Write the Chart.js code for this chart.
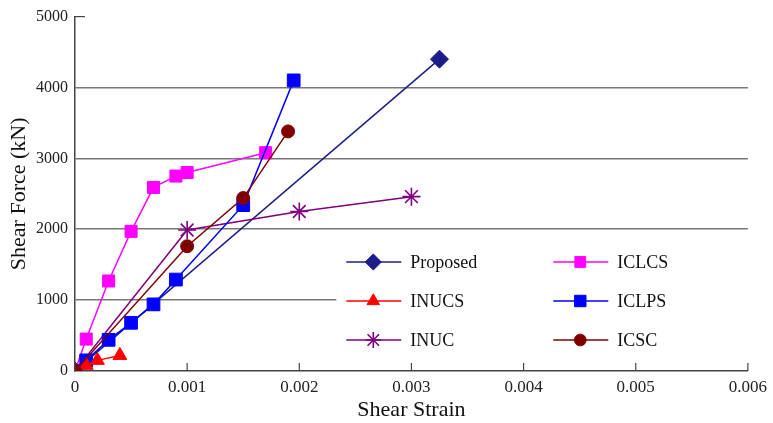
<!DOCTYPE html>
<html>
<head>
<meta charset="utf-8">
<script src="https://cdn.jsdelivr.net/npm/chart.js@4"></script>
<style>
  html, body { margin: 0; padding: 0; background: #fff; }
  #wrap { width: 773px; height: 423px; }
</style>
</head>
<body>
<div id="wrap"><canvas id="myChart" width="773" height="423"></canvas></div>
<script>
// Data (x = shear strain, y = shear force in kN)
const proposed = [[0, 0], [0.00325, 4400]];
const iclcs = [[0, 0], [0.0001, 450], [0.0003, 1270], [0.0005, 1970], [0.0007, 2590], [0.0009, 2750], [0.001, 2800], [0.0017, 3080]];
const inucs = [[0, 0], [0.0001, 80], [0.0002, 150], [0.0004, 220]];
const iclps = [[0, 0], [0.0001, 150], [0.0003, 440], [0.0005, 680], [0.0007, 940], [0.0009, 1290], [0.0015, 2340], [0.00195, 4100]];
const inuc = [[0, 0], [0.001, 1990], [0.002, 2250], [0.003, 2460]];
const icsc = [[0, 0], [0.001, 1760], [0.0015, 2440], [0.0019, 3380]];

const xTicks = [0, 0.001, 0.002, 0.003, 0.004, 0.005, 0.006];
const yTicks = [0, 1000, 2000, 3000, 4000, 5000];

const FONT = 'Liberation Serif';

// Helper to turn [x, y] pairs into points
function pts(arr) {
    return arr.map(p => ({ x: p[0], y: p[1] }));
}

function series(label, data, color, style, radius, order) {
    return {
        label: label,
        data: pts(data),
        borderColor: color,
        backgroundColor: color,
        pointBackgroundColor: color,
        pointBorderColor: color,
        borderWidth: 1.5,
        pointBorderWidth: style === 'star' ? 1.6 : 1,
        pointStyle: style,
        pointRadius: radius,
        pointHoverRadius: radius,
        fill: false,
        tension: 0,
        order: order
    };
}

const datasets = [
    series('Proposed', proposed, '#1c1c8a', 'rectRot', 9, 6),
    series('ICLCS', iclcs, '#ff00ff', 'rect', 8.5, 5),
    series('INUCS', inucs, '#ff0000', 'triangle', 8, 2),
    series('ICLPS', iclps, '#0000ff', 'rect', 9, 3),
    series('INUC', inuc, '#800080', 'star', 9, 4),
    series('ICSC', icsc, '#800000', 'circle', 6.5, 1)
];

// Legend inside the plot, two columns, white box
const innerLegend = {
    id: 'innerLegend',
    afterDatasetsDraw(chart) {
        const ctx = chart.ctx;
        const xs = chart.scales.x, ys = chart.scales.y;
        const left = xs.getPixelForValue(0.00233);
        const right = xs.right + 1;
        const top = ys.getPixelForValue(1850);
        const bottom = ys.getPixelForValue(80);
        ctx.save();
        ctx.fillStyle = '#fff';
        ctx.fillRect(left, top, right - left, bottom - top);
        const colX = [left + 10, left + 217];
        const rowY = [262, 301, 340];
        chart.data.datasets.forEach((ds, i) => {
            const cx = colX[i % 2];
            const cy = rowY[Math.floor(i / 2)];
            ctx.strokeStyle = ds.borderColor;
            ctx.lineWidth = 1.5;
            ctx.beginPath();
            ctx.moveTo(cx, cy);
            ctx.lineTo(cx + 55, cy);
            ctx.stroke();
            ctx.fillStyle = ds.backgroundColor;
            ctx.lineWidth = ds.pointBorderWidth;
            Chart.helpers.drawPoint(ctx, {
                pointStyle: ds.pointStyle,
                radius: ds.pointRadius * 0.9,
                rotation: 0,
                borderWidth: ds.pointBorderWidth
            }, cx + 27, cy);
            ctx.fillStyle = '#111';
            ctx.font = '18px "' + FONT + '"';
            ctx.textBaseline = 'middle';
            ctx.textAlign = 'left';
            ctx.fillText(ds.label, cx + 64, cy + 1);
        });
        ctx.restore();
    }
};

// Short inward tick marks on the axes
const innerTicks = {
    id: 'innerTicks',
    afterDraw(chart) {
        const ctx = chart.ctx;
        const xs = chart.scales.x, ys = chart.scales.y;
        ctx.save();
        ctx.strokeStyle = '#444';
        ctx.lineWidth = 1.2;
        xTicks.forEach(v => {
            const px = xs.getPixelForValue(v);
            ctx.beginPath();
            ctx.moveTo(px, ys.bottom);
            ctx.lineTo(px, ys.bottom - 8);
            ctx.stroke();
        });
        const py = ys.getPixelForValue(5000);
        ctx.beginPath();
        ctx.moveTo(xs.left, py);
        ctx.lineTo(xs.left + 10, py);
        ctx.stroke();
        ctx.restore();
    }
};

function createChart() {
    const ctx = document.getElementById('myChart').getContext('2d');
    new Chart(ctx, {
        type: 'line',
        data: { datasets: datasets },
        options: {
            responsive: false,
            animation: false,
            layout: { padding: { top: 16, right: 20, left: 6, bottom: 0 } },
            plugins: {
                legend: { display: false },
                tooltip: { enabled: false }
            },
            scales: {
                x: {
                    type: 'linear',
                    min: 0,
                    max: 0.006,
                    afterFit: s => { s.height = 52; },
                    afterBuildTicks: s => { s.ticks = xTicks.map(v => ({ value: v })); },
                    grid: { display: true, drawOnChartArea: false, drawTicks: false },
                    border: { display: true, color: '#444', width: 1.5 },
                    ticks: {
                        padding: 6,
                        color: '#222',
                        font: { family: FONT, size: 17 },
                        callback: v => String(v)
                    },
                    title: {
                        display: true,
                        text: 'Shear Strain',
                        color: '#111',
                        font: { family: FONT, size: 22 },
                        padding: { top: 0, bottom: 0 }
                    }
                },
                y: {
                    type: 'linear',
                    min: 0,
                    max: 5000,
                    afterFit: s => { s.width = 69; },
                    afterBuildTicks: s => { s.ticks = yTicks.map(v => ({ value: v })); },
                    grid: {
                        drawTicks: false,
                        lineWidth: 1.5,
                        color: c => (c.tick.value === 0 || c.tick.value === 5000) ? 'rgba(0,0,0,0)' : '#777'
                    },
                    border: { display: true, color: '#444', width: 1.5 },
                    ticks: {
                        padding: 7,
                        color: '#222',
                        font: { family: FONT, size: 16 },
                        callback: v => String(v)
                    },
                    title: {
                        display: true,
                        text: 'Shear Force (kN)',
                        color: '#111',
                        font: { family: FONT, size: 22 },
                        padding: { top: 0, bottom: 4 }
                    }
                }
            }
        },
        plugins: [innerLegend, innerTicks]
    });
}

window.onload = createChart;
</script>
</body>
</html>
